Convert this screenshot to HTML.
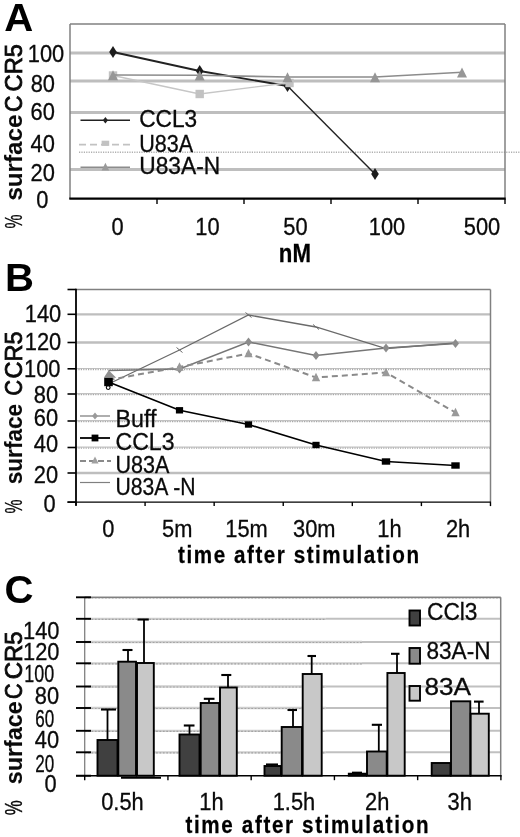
<!DOCTYPE html>
<html><head><meta charset="utf-8"><title>Figure</title>
<style>
html,body{margin:0;padding:0;background:#fff;}
svg{display:block;font-family:"Liberation Sans",sans-serif;}
</style></head><body>
<svg width="520" height="837" viewBox="0 0 520 837">
<rect width="520" height="837" fill="#fff"/>
<g id="panelA">
<text x="4.3" y="30.5" font-size="38.5" text-anchor="start" font-weight="bold" fill="#000" textLength="29" lengthAdjust="spacingAndGlyphs">A</text>
<line x1="70" y1="53" x2="505" y2="53" stroke="#bebebe" stroke-width="2.9"/>
<line x1="70" y1="81" x2="505" y2="81" stroke="#bebebe" stroke-width="2.9"/>
<line x1="70" y1="112.5" x2="505" y2="112.5" stroke="#bebebe" stroke-width="2.9"/>
<line x1="70" y1="169.5" x2="505" y2="169.5" stroke="#bebebe" stroke-width="2.9"/>
<line x1="79" y1="152.3" x2="520" y2="152.3" stroke="#b0b0b0" stroke-width="1.5" stroke-dasharray="1.2 1.2"/>
<line x1="70" y1="24" x2="505" y2="24" stroke="#808080" stroke-width="1.5"/>
<line x1="505" y1="24" x2="505" y2="199" stroke="#808080" stroke-width="1.5"/>
<line x1="70" y1="24" x2="70" y2="199" stroke="#808080" stroke-width="1.5"/>
<line x1="69.3" y1="198.6" x2="505.7" y2="198.6" stroke="#000" stroke-width="2.1"/>
<line x1="157" y1="199" x2="157" y2="204" stroke="#000" stroke-width="1.4"/>
<line x1="244" y1="199" x2="244" y2="204" stroke="#000" stroke-width="1.4"/>
<line x1="331" y1="199" x2="331" y2="204" stroke="#000" stroke-width="1.4"/>
<line x1="418" y1="199" x2="418" y2="204" stroke="#000" stroke-width="1.4"/>
<line x1="505" y1="199" x2="505" y2="204" stroke="#000" stroke-width="1.4"/>
<text x="46" y="62.2" font-size="23.5" text-anchor="middle" fill="#0a0a0a" stroke="#0a0a0a" stroke-width="0.3" textLength="36.46" lengthAdjust="spacingAndGlyphs">100</text>
<text x="42.8" y="92.2" font-size="23.5" text-anchor="middle" fill="#0a0a0a" stroke="#0a0a0a" stroke-width="0.3" textLength="24.31" lengthAdjust="spacingAndGlyphs">80</text>
<text x="42.7" y="120.3" font-size="23.5" text-anchor="middle" fill="#0a0a0a" stroke="#0a0a0a" stroke-width="0.3" textLength="24.31" lengthAdjust="spacingAndGlyphs">60</text>
<text x="42.7" y="152.2" font-size="23.5" text-anchor="middle" fill="#0a0a0a" stroke="#0a0a0a" stroke-width="0.3" textLength="24.31" lengthAdjust="spacingAndGlyphs">40</text>
<text x="42.7" y="180.9" font-size="23.5" text-anchor="middle" fill="#0a0a0a" stroke="#0a0a0a" stroke-width="0.3" textLength="24.31" lengthAdjust="spacingAndGlyphs">20</text>
<text x="42.3" y="208.2" font-size="23.5" text-anchor="middle" fill="#0a0a0a" stroke="#0a0a0a" stroke-width="0.3" textLength="12.15" lengthAdjust="spacingAndGlyphs">0</text>
<text x="117.5" y="235" font-size="23.5" text-anchor="middle" fill="#0a0a0a" stroke="#0a0a0a" stroke-width="0.3" textLength="12.15" lengthAdjust="spacingAndGlyphs">0</text>
<text x="207.4" y="235" font-size="23.5" text-anchor="middle" fill="#0a0a0a" stroke="#0a0a0a" stroke-width="0.3" textLength="24.31" lengthAdjust="spacingAndGlyphs">10</text>
<text x="295.5" y="235" font-size="23.5" text-anchor="middle" fill="#0a0a0a" stroke="#0a0a0a" stroke-width="0.3" textLength="24.31" lengthAdjust="spacingAndGlyphs">50</text>
<text x="387" y="235" font-size="23.5" text-anchor="middle" fill="#0a0a0a" stroke="#0a0a0a" stroke-width="0.3" textLength="36.46" lengthAdjust="spacingAndGlyphs">100</text>
<text x="482" y="235" font-size="23.5" text-anchor="middle" fill="#0a0a0a" stroke="#0a0a0a" stroke-width="0.3" textLength="36.46" lengthAdjust="spacingAndGlyphs">500</text>
<g transform="translate(295 262) scale(0.89 1)"><text x="0" y="0" font-size="25" font-weight="bold" text-anchor="middle" fill="#000" stroke="#000" stroke-width="0.25" textLength="36.29" lengthAdjust="spacing">nM</text></g>
<text transform="translate(21.8 228.6) rotate(-90)" font-size="24" fill="#0a0a0a" stroke="#0a0a0a" stroke-width="0.3" textLength="14" lengthAdjust="spacingAndGlyphs">%</text>
<text transform="translate(21.8 200.6) rotate(-90)" font-size="23.5" font-weight="bold" fill="#0a0a0a" stroke="#0a0a0a" stroke-width="0.1" textLength="86" lengthAdjust="spacingAndGlyphs">surface</text>
<text transform="translate(22.3 111.89999999999999) rotate(-90)" font-size="23" fill="#0a0a0a" stroke="#0a0a0a" stroke-width="0.8" textLength="16.5" lengthAdjust="spacingAndGlyphs">C</text>
<text transform="translate(22.3 91.5) rotate(-90)" font-size="23" fill="#0a0a0a" stroke="#0a0a0a" stroke-width="0.8" textLength="47.5" lengthAdjust="spacingAndGlyphs">CR5</text>
<polyline points="113,52 199.7,71 287.5,86" fill="none" stroke="#222" stroke-width="1.8"/>
<polyline points="287.5,86 375,174" fill="none" stroke="#222" stroke-width="1.4"/>
<polygon points="113,46 116.8,52 113,58 109.2,52" fill="#1c1c1c"/>
<polygon points="199.7,65 203.5,71 199.7,77 195.89999999999998,71" fill="#1c1c1c"/>
<polygon points="287.5,80 291.3,86 287.5,92 283.7,86" fill="#1c1c1c"/>
<polygon points="375,168 378.8,174 375,180 371.2,174" fill="#1c1c1c"/>
<polyline points="113,75.5 199.7,94 287.5,83" fill="none" stroke="#c6c6c6" stroke-width="1.3"/>
<rect x="108.8" y="71.3" width="8.4" height="8.4" fill="#c2c2c2"/>
<rect x="195.5" y="89.8" width="8.4" height="8.4" fill="#c2c2c2"/>
<rect x="285.3" y="78.8" width="8.4" height="8.4" fill="#c2c2c2"/>
<polyline points="113,75 199.7,75.3 287.5,77 375,77 462,72.3" fill="none" stroke="#8c8c8c" stroke-width="1.6"/>
<polygon points="113,70.3 118,80.3 108,80.3" fill="#969696"/>
<polygon points="199.7,70.6 204.7,80.6 194.7,80.6" fill="#969696"/>
<polygon points="287.5,72.3 292.5,82.3 282.5,82.3" fill="#969696"/>
<polygon points="375,72.3 380,82.3 370,82.3" fill="#969696"/>
<polygon points="462,67.6 467,77.6 457,77.6" fill="#969696"/>
<line x1="80.5" y1="120.3" x2="130" y2="120.3" stroke="#222" stroke-width="1.4"/>
<polygon points="105.4,117.1 107.96000000000001,120.3 105.4,123.5 102.84,120.3" fill="#222"/>
<text x="139.2" y="127.2" font-size="23.5" text-anchor="start" fill="#0a0a0a" stroke="#0a0a0a" stroke-width="0.3" textLength="58" lengthAdjust="spacingAndGlyphs">CCL3</text>
<line x1="79" y1="144.6" x2="131" y2="144.6" stroke="#c2c2c2" stroke-width="1.6" stroke-dasharray="7 4"/>
<rect x="101.60000000000001" y="140.70000000000002" width="7.6" height="5.2" fill="#c2c2c2"/>
<text x="139.2" y="151.7" font-size="23.5" text-anchor="start" fill="#0a0a0a" stroke="#0a0a0a" stroke-width="0.3" textLength="54" lengthAdjust="spacingAndGlyphs">U83A</text>
<line x1="80.5" y1="167.3" x2="130" y2="167.3" stroke="#8c8c8c" stroke-width="1.4"/>
<polygon points="105.4,162.79999999999998 109.2,170.4 101.60000000000001,170.4" fill="#9a9a9a"/>
<text x="139.2" y="174.3" font-size="23.5" text-anchor="start" fill="#0a0a0a" stroke="#0a0a0a" stroke-width="0.3" textLength="81" lengthAdjust="spacingAndGlyphs">U83A-N</text>
</g>
<g id="panelB">
<text x="5" y="291.2" font-size="39" text-anchor="start" font-weight="bold" fill="#000" textLength="29" lengthAdjust="spacingAndGlyphs">B</text>
<line x1="76" y1="314.3" x2="490.5" y2="314.3" stroke="#bebebe" stroke-width="2.3"/>
<line x1="76" y1="342.5" x2="490.5" y2="342.5" stroke="#bebebe" stroke-width="2.3"/>
<line x1="76" y1="368.5" x2="490.5" y2="368.5" stroke="#c2c2c2" stroke-width="1.2"/>
<line x1="76" y1="369.5" x2="490.5" y2="369.5" stroke="#a8a8a8" stroke-width="1.3" stroke-dasharray="1.2 1.2"/>
<line x1="76" y1="393.7" x2="490.5" y2="393.7" stroke="#c2c2c2" stroke-width="1.2"/>
<line x1="76" y1="394.7" x2="490.5" y2="394.7" stroke="#a8a8a8" stroke-width="1.3" stroke-dasharray="1.2 1.2"/>
<line x1="76" y1="420.7" x2="490.5" y2="420.7" stroke="#c2c2c2" stroke-width="1.2"/>
<line x1="76" y1="421.7" x2="490.5" y2="421.7" stroke="#a8a8a8" stroke-width="1.3" stroke-dasharray="1.2 1.2"/>
<line x1="76" y1="447.2" x2="490.5" y2="447.2" stroke="#c2c2c2" stroke-width="1.2"/>
<line x1="76" y1="448.2" x2="490.5" y2="448.2" stroke="#a8a8a8" stroke-width="1.3" stroke-dasharray="1.2 1.2"/>
<line x1="76" y1="473" x2="490.5" y2="473" stroke="#bebebe" stroke-width="2.3"/>
<line x1="76" y1="289.5" x2="490.5" y2="289.5" stroke="#808080" stroke-width="1.5"/>
<line x1="490.5" y1="289.5" x2="490.5" y2="502.1" stroke="#808080" stroke-width="1.5"/>
<line x1="76" y1="288.7" x2="76" y2="505.6" stroke="#000" stroke-width="1.8"/>
<line x1="67.5" y1="314.3" x2="76" y2="314.3" stroke="#000" stroke-width="1.6"/>
<line x1="67.5" y1="342.5" x2="76" y2="342.5" stroke="#000" stroke-width="1.6"/>
<line x1="67.5" y1="368.8" x2="76" y2="368.8" stroke="#000" stroke-width="1.6"/>
<line x1="67.5" y1="394" x2="76" y2="394" stroke="#000" stroke-width="1.6"/>
<line x1="67.5" y1="421" x2="76" y2="421" stroke="#000" stroke-width="1.6"/>
<line x1="67.5" y1="447.5" x2="76" y2="447.5" stroke="#000" stroke-width="1.6"/>
<line x1="67.5" y1="473" x2="76" y2="473" stroke="#000" stroke-width="1.6"/>
<line x1="67.5" y1="502.1" x2="76" y2="502.1" stroke="#000" stroke-width="1.6"/>
<line x1="67.5" y1="289.5" x2="76" y2="289.5" stroke="#000" stroke-width="1.6"/>
<line x1="67.5" y1="502.1" x2="491.0" y2="502.1" stroke="#000" stroke-width="1.4"/>
<line x1="76.0" y1="502.1" x2="76.0" y2="506.1" stroke="#000" stroke-width="1.4"/>
<line x1="145.07999999999998" y1="502.1" x2="145.07999999999998" y2="506.1" stroke="#000" stroke-width="1.4"/>
<line x1="214.16" y1="502.1" x2="214.16" y2="506.1" stroke="#000" stroke-width="1.4"/>
<line x1="283.24" y1="502.1" x2="283.24" y2="506.1" stroke="#000" stroke-width="1.4"/>
<line x1="352.32" y1="502.1" x2="352.32" y2="506.1" stroke="#000" stroke-width="1.4"/>
<line x1="421.4" y1="502.1" x2="421.4" y2="506.1" stroke="#000" stroke-width="1.4"/>
<line x1="490.48" y1="502.1" x2="490.48" y2="506.1" stroke="#000" stroke-width="1.4"/>
<text x="43" y="322.3" font-size="23.5" text-anchor="middle" fill="#0a0a0a" stroke="#0a0a0a" stroke-width="0.3" textLength="36.46" lengthAdjust="spacingAndGlyphs">140</text>
<text x="43" y="350.3" font-size="23.5" text-anchor="middle" fill="#0a0a0a" stroke="#0a0a0a" stroke-width="0.3" textLength="36.46" lengthAdjust="spacingAndGlyphs">120</text>
<text x="42.3" y="376.8" font-size="23.5" text-anchor="middle" fill="#0a0a0a" stroke="#0a0a0a" stroke-width="0.3" textLength="36.46" lengthAdjust="spacingAndGlyphs">100</text>
<text x="45.9" y="403.1" font-size="23.5" text-anchor="middle" fill="#0a0a0a" stroke="#0a0a0a" stroke-width="0.3" textLength="24.31" lengthAdjust="spacingAndGlyphs">80</text>
<text x="45.9" y="425.5" font-size="23.5" text-anchor="middle" fill="#0a0a0a" stroke="#0a0a0a" stroke-width="0.3" textLength="24.31" lengthAdjust="spacingAndGlyphs">60</text>
<text x="45.9" y="452.2" font-size="23.5" text-anchor="middle" fill="#0a0a0a" stroke="#0a0a0a" stroke-width="0.3" textLength="24.31" lengthAdjust="spacingAndGlyphs">40</text>
<text x="45.9" y="482.9" font-size="23.5" text-anchor="middle" fill="#0a0a0a" stroke="#0a0a0a" stroke-width="0.3" textLength="24.31" lengthAdjust="spacingAndGlyphs">20</text>
<text x="49.5" y="511.6" font-size="23.5" text-anchor="middle" fill="#0a0a0a" stroke="#0a0a0a" stroke-width="0.3" textLength="12.15" lengthAdjust="spacingAndGlyphs">0</text>
<text x="108.2" y="536.5" font-size="23.5" text-anchor="middle" fill="#0a0a0a" stroke="#0a0a0a" stroke-width="0.3" textLength="12.15" lengthAdjust="spacingAndGlyphs">0</text>
<text x="177.3" y="536.5" font-size="23.5" text-anchor="middle" fill="#0a0a0a" stroke="#0a0a0a" stroke-width="0.3" textLength="30.36" lengthAdjust="spacingAndGlyphs">5m</text>
<text x="246.5" y="536.5" font-size="23.5" text-anchor="middle" fill="#0a0a0a" stroke="#0a0a0a" stroke-width="0.3" textLength="42.52" lengthAdjust="spacingAndGlyphs">15m</text>
<text x="314.3" y="536.5" font-size="23.5" text-anchor="middle" fill="#0a0a0a" stroke="#0a0a0a" stroke-width="0.3" textLength="42.52" lengthAdjust="spacingAndGlyphs">30m</text>
<text x="389.5" y="536.5" font-size="23.5" text-anchor="middle" fill="#0a0a0a" stroke="#0a0a0a" stroke-width="0.3" textLength="24.31" lengthAdjust="spacingAndGlyphs">1h</text>
<text x="458.1" y="536.5" font-size="23.5" text-anchor="middle" fill="#0a0a0a" stroke="#0a0a0a" stroke-width="0.3" textLength="24.31" lengthAdjust="spacingAndGlyphs">2h</text>
<g transform="translate(298.6 563) scale(0.86 1)"><text x="0" y="0" font-size="24" font-weight="bold" text-anchor="middle" fill="#000" stroke="#000" stroke-width="0.25" textLength="280.23" lengthAdjust="spacing">time after stimulation</text></g>
<text transform="translate(21.7 513.6) rotate(-90)" font-size="24" fill="#0a0a0a" stroke="#0a0a0a" stroke-width="0.3" textLength="14" lengthAdjust="spacingAndGlyphs">%</text>
<text transform="translate(21.7 484.3) rotate(-90)" font-size="23.5" font-weight="bold" fill="#0a0a0a" stroke="#0a0a0a" stroke-width="0.1" textLength="80.5" lengthAdjust="spacingAndGlyphs">surface</text>
<text transform="translate(22.2 395.6) rotate(-90)" font-size="23" fill="#0a0a0a" stroke="#0a0a0a" stroke-width="0.8" textLength="15.5" lengthAdjust="spacingAndGlyphs">C</text>
<text transform="translate(22.2 378.5) rotate(-90)" font-size="23" fill="#0a0a0a" stroke="#0a0a0a" stroke-width="0.8" textLength="47" lengthAdjust="spacingAndGlyphs">CR5</text>
<polyline points="108.5,384 179.5,350 248.5,315 316,327 386,348.5 455.5,343" fill="none" stroke="#6a6a6a" stroke-width="1.3"/>
<polyline points="108.5,370.5 179.5,369 248.5,342 316,355.5 386,348 455.5,343.5" fill="none" stroke="#767676" stroke-width="1.5"/>
<polygon points="179.5,364.6 183.02,369 179.5,373.4 175.98,369" fill="#8c8c8c"/>
<polygon points="248.5,337.6 252.02,342 248.5,346.4 244.98,342" fill="#8c8c8c"/>
<polygon points="316,351.1 319.52,355.5 316,359.9 312.48,355.5" fill="#8c8c8c"/>
<polygon points="386,343.6 389.52,348 386,352.4 382.48,348" fill="#8c8c8c"/>
<polygon points="455.5,339.1 459.02,343.5 455.5,347.9 451.98,343.5" fill="#8c8c8c"/>
<polygon points="108.7,370.2 116.2,377.8 103.8,377.8" fill="#8f8f8f"/>
<circle cx="108.2" cy="387.6" r="1.9" fill="#fff" stroke="#000" stroke-width="1.1"/>
<polyline points="108.5,380 179.5,367 248.5,353.5 316,377.5 386,372.5 455.5,412.5" fill="none" stroke="#8a8a8a" stroke-width="2" stroke-dasharray="6 4"/>
<polygon points="179.5,362.3 183.7,370.7 175.3,370.7" fill="#999"/>
<polygon points="248.5,348.8 252.7,357.2 244.3,357.2" fill="#999"/>
<polygon points="316,372.8 320.2,381.2 311.8,381.2" fill="#999"/>
<polygon points="386,367.8 390.2,376.2 381.8,376.2" fill="#999"/>
<polygon points="455.5,407.8 459.7,416.2 451.3,416.2" fill="#999"/>
<polyline points="108.5,382 179.5,410.3 248.5,424.5 316,445 386,461.5 455.5,465.5" fill="none" stroke="#000" stroke-width="1.7"/>
<rect x="104.2" y="377.8" width="8.6" height="8.4" fill="#000"/>
<rect x="175.9" y="407.1" width="7.2" height="6.4" fill="#000"/>
<rect x="244.9" y="421.3" width="7.2" height="6.4" fill="#000"/>
<rect x="312.4" y="441.8" width="7.2" height="6.4" fill="#000"/>
<rect x="381.8" y="458.3" width="8.4" height="6.4" fill="#000"/>
<rect x="451.3" y="462.3" width="8.4" height="6.4" fill="#000"/>
<line x1="176.5" y1="347.5" x2="182.5" y2="352.5" stroke="#6a6a6a" stroke-width="1"/>
<line x1="245.5" y1="312.5" x2="251.5" y2="317.5" stroke="#6a6a6a" stroke-width="1"/>
<line x1="313" y1="324.5" x2="319" y2="329.5" stroke="#6a6a6a" stroke-width="1"/>
<line x1="80" y1="416" x2="110" y2="416" stroke="#8c8c8c" stroke-width="1.4"/>
<polygon points="95,412.4 97.88,416 95,419.6 92.12,416" fill="#9a9a9a"/>
<text x="115.5" y="426.7" font-size="23.5" text-anchor="start" fill="#0a0a0a" stroke="#0a0a0a" stroke-width="0.3" textLength="41" lengthAdjust="spacingAndGlyphs">Buff</text>
<line x1="80" y1="438" x2="110" y2="438" stroke="#000" stroke-width="1.8"/>
<rect x="91.6" y="434.6" width="6.8" height="6.8" fill="#000"/>
<text x="115.5" y="449.6" font-size="23.5" text-anchor="start" fill="#0a0a0a" stroke="#0a0a0a" stroke-width="0.3" textLength="59" lengthAdjust="spacingAndGlyphs">CCL3</text>
<line x1="80" y1="461" x2="111" y2="461" stroke="#8a8a8a" stroke-width="2" stroke-dasharray="6 3"/>
<polygon points="95,456.4 98.6,463.6 91.4,463.6" fill="#a0a0a0"/>
<text x="115.5" y="472.5" font-size="23.5" text-anchor="start" fill="#0a0a0a" stroke="#0a0a0a" stroke-width="0.3" textLength="54" lengthAdjust="spacingAndGlyphs">U83A</text>
<line x1="80" y1="482.5" x2="110" y2="482.5" stroke="#808080" stroke-width="1.2"/>
<text x="115.5" y="495.3" font-size="23.5" text-anchor="start" fill="#0a0a0a" stroke="#0a0a0a" stroke-width="0.3" textLength="80" lengthAdjust="spacingAndGlyphs">U83A -N</text>
</g>
<g id="panelC">
<text x="4.6" y="603.3" font-size="39.5" text-anchor="start" font-weight="bold" fill="#000" textLength="29" lengthAdjust="spacingAndGlyphs">C</text>
<line x1="84.7" y1="597.3" x2="500.7" y2="597.3" stroke="#cecece" stroke-width="2.3"/>
<line x1="84.7" y1="597.8" x2="500.7" y2="597.8" stroke="#a4a4a4" stroke-width="1.2" stroke-dasharray="1.7 1.7"/>
<line x1="84.7" y1="618.8" x2="326" y2="618.8" stroke="#cecece" stroke-width="2.3"/>
<line x1="326" y1="618.8" x2="500.7" y2="618.8" stroke="#c0c0c0" stroke-width="2.1"/>
<line x1="84.7" y1="619.3" x2="326" y2="619.3" stroke="#a4a4a4" stroke-width="1.2" stroke-dasharray="1.7 1.7"/>
<line x1="84.7" y1="642" x2="362" y2="642" stroke="#cecece" stroke-width="2.3"/>
<line x1="362" y1="642" x2="500.7" y2="642" stroke="#c0c0c0" stroke-width="2.1"/>
<line x1="84.7" y1="642.5" x2="362" y2="642.5" stroke="#a4a4a4" stroke-width="1.2" stroke-dasharray="1.7 1.7"/>
<line x1="84.7" y1="663.3" x2="362" y2="663.3" stroke="#cecece" stroke-width="2.3"/>
<line x1="362" y1="663.3" x2="500.7" y2="663.3" stroke="#c0c0c0" stroke-width="2.1"/>
<line x1="84.7" y1="663.8" x2="362" y2="663.8" stroke="#a4a4a4" stroke-width="1.2" stroke-dasharray="1.7 1.7"/>
<line x1="84.7" y1="686.5" x2="326" y2="686.5" stroke="#cecece" stroke-width="2.3"/>
<line x1="326" y1="686.5" x2="500.7" y2="686.5" stroke="#c0c0c0" stroke-width="2.1"/>
<line x1="84.7" y1="687.0" x2="326" y2="687.0" stroke="#a4a4a4" stroke-width="1.2" stroke-dasharray="1.7 1.7"/>
<line x1="84.7" y1="708" x2="326" y2="708" stroke="#cecece" stroke-width="2.3"/>
<line x1="326" y1="708" x2="500.7" y2="708" stroke="#c0c0c0" stroke-width="2.1"/>
<line x1="84.7" y1="708.5" x2="326" y2="708.5" stroke="#a4a4a4" stroke-width="1.2" stroke-dasharray="1.7 1.7"/>
<line x1="84.7" y1="730.8" x2="326" y2="730.8" stroke="#cecece" stroke-width="2.3"/>
<line x1="326" y1="730.8" x2="500.7" y2="730.8" stroke="#c0c0c0" stroke-width="2.1"/>
<line x1="84.7" y1="731.3" x2="326" y2="731.3" stroke="#a4a4a4" stroke-width="1.2" stroke-dasharray="1.7 1.7"/>
<line x1="84.7" y1="752.3" x2="326" y2="752.3" stroke="#cecece" stroke-width="2.3"/>
<line x1="326" y1="752.3" x2="500.7" y2="752.3" stroke="#c0c0c0" stroke-width="2.1"/>
<line x1="84.7" y1="752.8" x2="326" y2="752.8" stroke="#a4a4a4" stroke-width="1.2" stroke-dasharray="1.7 1.7"/>
<line x1="84.7" y1="597.3" x2="500.7" y2="597.3" stroke="#808080" stroke-width="1.2"/>
<line x1="500.7" y1="597.3" x2="500.7" y2="775.7" stroke="#808080" stroke-width="1.5"/>
<line x1="84.7" y1="597.3" x2="84.7" y2="775.7" stroke="#808080" stroke-width="1.3"/>
<line x1="76" y1="597.3" x2="91" y2="597.3" stroke="#000" stroke-width="1.9"/>
<line x1="76" y1="618.8" x2="91" y2="618.8" stroke="#000" stroke-width="1.9"/>
<line x1="76" y1="642" x2="91" y2="642" stroke="#000" stroke-width="1.9"/>
<line x1="76" y1="663.3" x2="91" y2="663.3" stroke="#000" stroke-width="1.9"/>
<line x1="76" y1="686.5" x2="91" y2="686.5" stroke="#000" stroke-width="1.9"/>
<line x1="76" y1="708" x2="91" y2="708" stroke="#000" stroke-width="1.9"/>
<line x1="76" y1="730.8" x2="91" y2="730.8" stroke="#000" stroke-width="1.9"/>
<line x1="76" y1="752.3" x2="91" y2="752.3" stroke="#000" stroke-width="1.9"/>
<line x1="76" y1="775.7" x2="91" y2="775.7" stroke="#000" stroke-width="1.9"/>
<line x1="107.5" y1="740" x2="107.5" y2="709.5" stroke="#000" stroke-width="1.8"/>
<line x1="101" y1="709.5" x2="116" y2="709.5" stroke="#000" stroke-width="2.1"/>
<rect x="97.5" y="740" width="20.0" height="35.7" fill="#404040" stroke="#000" stroke-width="1.9"/>
<line x1="128" y1="661.7" x2="128" y2="650" stroke="#000" stroke-width="1.8"/>
<line x1="122.5" y1="650" x2="132.5" y2="650" stroke="#000" stroke-width="2.1"/>
<rect x="118.3" y="661.7" width="17.7" height="114.0" fill="#8a8a8a" stroke="#000" stroke-width="1.9"/>
<line x1="144" y1="663" x2="144" y2="619.5" stroke="#000" stroke-width="1.8"/>
<line x1="137.5" y1="619.5" x2="148.8" y2="619.5" stroke="#000" stroke-width="2.1"/>
<rect x="137" y="663" width="16.8" height="112.7" fill="#c8c8c8" stroke="#000" stroke-width="1.9"/>
<line x1="189.5" y1="734.5" x2="189.5" y2="725.5" stroke="#000" stroke-width="1.8"/>
<line x1="183.8" y1="725.5" x2="194.5" y2="725.5" stroke="#000" stroke-width="2.1"/>
<rect x="179.5" y="734.5" width="20.0" height="41.2" fill="#404040" stroke="#000" stroke-width="1.9"/>
<line x1="209" y1="703" x2="209" y2="698.8" stroke="#000" stroke-width="1.8"/>
<line x1="203.8" y1="698.8" x2="214.5" y2="698.8" stroke="#000" stroke-width="2.1"/>
<rect x="200.7" y="703" width="18.5" height="72.7" fill="#8a8a8a" stroke="#000" stroke-width="1.9"/>
<line x1="228" y1="687.5" x2="228" y2="675" stroke="#000" stroke-width="1.8"/>
<line x1="221.3" y1="675" x2="231.3" y2="675" stroke="#000" stroke-width="2.1"/>
<rect x="220" y="687.5" width="16.8" height="88.2" fill="#c8c8c8" stroke="#000" stroke-width="1.9"/>
<line x1="272" y1="766" x2="272" y2="764.5" stroke="#000" stroke-width="1.8"/>
<line x1="266" y1="764.5" x2="278" y2="764.5" stroke="#000" stroke-width="2.1"/>
<rect x="264.5" y="766" width="16.5" height="9.7" fill="#404040" stroke="#000" stroke-width="1.9"/>
<line x1="293" y1="727" x2="293" y2="710" stroke="#000" stroke-width="1.8"/>
<line x1="287.5" y1="710" x2="297" y2="710" stroke="#000" stroke-width="2.1"/>
<rect x="281.7" y="727" width="20.3" height="48.7" fill="#8a8a8a" stroke="#000" stroke-width="1.9"/>
<line x1="311.7" y1="674" x2="311.7" y2="656" stroke="#000" stroke-width="1.8"/>
<line x1="307.5" y1="656" x2="316" y2="656" stroke="#000" stroke-width="2.1"/>
<rect x="302.7" y="674" width="19.0" height="101.7" fill="#c8c8c8" stroke="#000" stroke-width="1.9"/>
<line x1="357" y1="773.7" x2="357" y2="772.7" stroke="#000" stroke-width="1.8"/>
<line x1="352" y1="772.7" x2="362" y2="772.7" stroke="#000" stroke-width="2.1"/>
<rect x="348.8" y="773.7" width="17.2" height="2.0" fill="#404040" stroke="#000" stroke-width="1.9"/>
<line x1="378.8" y1="751.5" x2="378.8" y2="724.8" stroke="#000" stroke-width="1.8"/>
<line x1="371.8" y1="724.8" x2="382" y2="724.8" stroke="#000" stroke-width="2.1"/>
<rect x="367" y="751.5" width="19.7" height="24.2" fill="#8a8a8a" stroke="#000" stroke-width="1.9"/>
<line x1="397" y1="673" x2="397" y2="653.8" stroke="#000" stroke-width="1.8"/>
<line x1="391" y1="653.8" x2="399.5" y2="653.8" stroke="#000" stroke-width="2.1"/>
<rect x="387.4" y="673" width="17.3" height="102.7" fill="#c8c8c8" stroke="#000" stroke-width="1.9"/>
<rect x="431.7" y="763" width="18.8" height="12.7" fill="#404040" stroke="#000" stroke-width="1.9"/>
<rect x="451" y="701.3" width="19.3" height="74.4" fill="#8a8a8a" stroke="#000" stroke-width="1.9"/>
<line x1="479" y1="713.7" x2="479" y2="701.6" stroke="#000" stroke-width="1.8"/>
<line x1="474" y1="701.6" x2="483.6" y2="701.6" stroke="#000" stroke-width="2.1"/>
<rect x="470.7" y="713.7" width="18.1" height="62.0" fill="#c8c8c8" stroke="#000" stroke-width="1.9"/>
<line x1="76" y1="775.7" x2="501.7" y2="775.7" stroke="#000" stroke-width="1.6"/>
<line x1="84.7" y1="775.7" x2="84.7" y2="780.2" stroke="#000" stroke-width="1.4"/>
<line x1="167.94" y1="775.7" x2="167.94" y2="780.2" stroke="#000" stroke-width="1.4"/>
<line x1="251.18" y1="775.7" x2="251.18" y2="780.2" stroke="#000" stroke-width="1.4"/>
<line x1="334.41999999999996" y1="775.7" x2="334.41999999999996" y2="780.2" stroke="#000" stroke-width="1.4"/>
<line x1="417.65999999999997" y1="775.7" x2="417.65999999999997" y2="780.2" stroke="#000" stroke-width="1.4"/>
<line x1="500.9" y1="775.7" x2="500.9" y2="780.2" stroke="#000" stroke-width="1.4"/>
<line x1="121" y1="777.8" x2="161" y2="777.8" stroke="#000" stroke-width="2"/>
<text x="41.3" y="638.6" font-size="23.5" text-anchor="middle" fill="#0a0a0a" stroke="#0a0a0a" stroke-width="0.3" textLength="36.46" lengthAdjust="spacingAndGlyphs">140</text>
<text x="41.3" y="659.5" font-size="23.5" text-anchor="middle" fill="#0a0a0a" stroke="#0a0a0a" stroke-width="0.3" textLength="36.46" lengthAdjust="spacingAndGlyphs">120</text>
<text x="39.3" y="682" font-size="23.5" text-anchor="middle" fill="#0a0a0a" stroke="#0a0a0a" stroke-width="0.3" textLength="30" lengthAdjust="spacingAndGlyphs">100</text>
<text x="47" y="704.3" font-size="23.5" text-anchor="middle" fill="#0a0a0a" stroke="#0a0a0a" stroke-width="0.3" textLength="24.31" lengthAdjust="spacingAndGlyphs">80</text>
<text x="44.8" y="726.5" font-size="23.5" text-anchor="middle" fill="#0a0a0a" stroke="#0a0a0a" stroke-width="0.3" textLength="19" lengthAdjust="spacingAndGlyphs">60</text>
<text x="47" y="747.7" font-size="23.5" text-anchor="middle" fill="#0a0a0a" stroke="#0a0a0a" stroke-width="0.3" textLength="24.31" lengthAdjust="spacingAndGlyphs">40</text>
<text x="44.8" y="772.1" font-size="23.5" text-anchor="middle" fill="#0a0a0a" stroke="#0a0a0a" stroke-width="0.3" textLength="19" lengthAdjust="spacingAndGlyphs">20</text>
<text x="50.6" y="792.4" font-size="23.5" text-anchor="middle" fill="#0a0a0a" stroke="#0a0a0a" stroke-width="0.3" textLength="12.15" lengthAdjust="spacingAndGlyphs">0</text>
<text x="122.5" y="810" font-size="23.5" text-anchor="middle" fill="#0a0a0a" stroke="#0a0a0a" stroke-width="0.3" textLength="42.54" lengthAdjust="spacingAndGlyphs">0.5h</text>
<text x="211.5" y="810" font-size="23.5" text-anchor="middle" fill="#0a0a0a" stroke="#0a0a0a" stroke-width="0.3" textLength="24.31" lengthAdjust="spacingAndGlyphs">1h</text>
<text x="294" y="810" font-size="23.5" text-anchor="middle" fill="#0a0a0a" stroke="#0a0a0a" stroke-width="0.3" textLength="42.54" lengthAdjust="spacingAndGlyphs">1.5h</text>
<text x="377.2" y="810" font-size="23.5" text-anchor="middle" fill="#0a0a0a" stroke="#0a0a0a" stroke-width="0.3" textLength="24.31" lengthAdjust="spacingAndGlyphs">2h</text>
<text x="459.7" y="810" font-size="23.5" text-anchor="middle" fill="#0a0a0a" stroke="#0a0a0a" stroke-width="0.3" textLength="24.31" lengthAdjust="spacingAndGlyphs">3h</text>
<g transform="translate(307 833.2) scale(0.86 1)"><text x="0" y="0" font-size="24" font-weight="bold" text-anchor="middle" fill="#000" stroke="#000" stroke-width="0.25" textLength="282.56" lengthAdjust="spacing">time after stimulation</text></g>
<text transform="translate(21.9 815.3) rotate(-90)" font-size="24" fill="#0a0a0a" stroke="#0a0a0a" stroke-width="0.3" textLength="15" lengthAdjust="spacingAndGlyphs">%</text>
<text transform="translate(21.9 784.2) rotate(-90)" font-size="23.5" font-weight="bold" fill="#0a0a0a" stroke="#0a0a0a" stroke-width="0.1" textLength="83" lengthAdjust="spacingAndGlyphs">surface</text>
<text transform="translate(22.4 699.1) rotate(-90)" font-size="23" fill="#0a0a0a" stroke="#0a0a0a" stroke-width="0.8" textLength="15.5" lengthAdjust="spacingAndGlyphs">C</text>
<text transform="translate(22.4 679.3) rotate(-90)" font-size="23" fill="#0a0a0a" stroke="#0a0a0a" stroke-width="0.8" textLength="48" lengthAdjust="spacingAndGlyphs">CR5</text>
<rect x="409.5" y="610.5" width="10.5" height="15.0" fill="#404040" stroke="#000" stroke-width="1.9"/>
<text x="427" y="620" font-size="23.5" text-anchor="start" fill="#0a0a0a" stroke="#0a0a0a" stroke-width="0.3" textLength="50.5" lengthAdjust="spacingAndGlyphs">CCl3</text>
<rect x="409.5" y="648" width="10.5" height="15.7" fill="#8a8a8a" stroke="#000" stroke-width="1.9"/>
<text x="426.5" y="659.3" font-size="23.5" text-anchor="start" fill="#0a0a0a" stroke="#0a0a0a" stroke-width="0.3" textLength="64" lengthAdjust="spacingAndGlyphs">83A-N</text>
<rect x="409.5" y="686" width="10.5" height="14.7" fill="#c8c8c8" stroke="#000" stroke-width="1.9"/>
<text x="424.5" y="695" font-size="23.5" text-anchor="start" fill="#0a0a0a" stroke="#0a0a0a" stroke-width="0.3" textLength="46.5" lengthAdjust="spacingAndGlyphs">83A</text>
</g>
</svg>
</body></html>
